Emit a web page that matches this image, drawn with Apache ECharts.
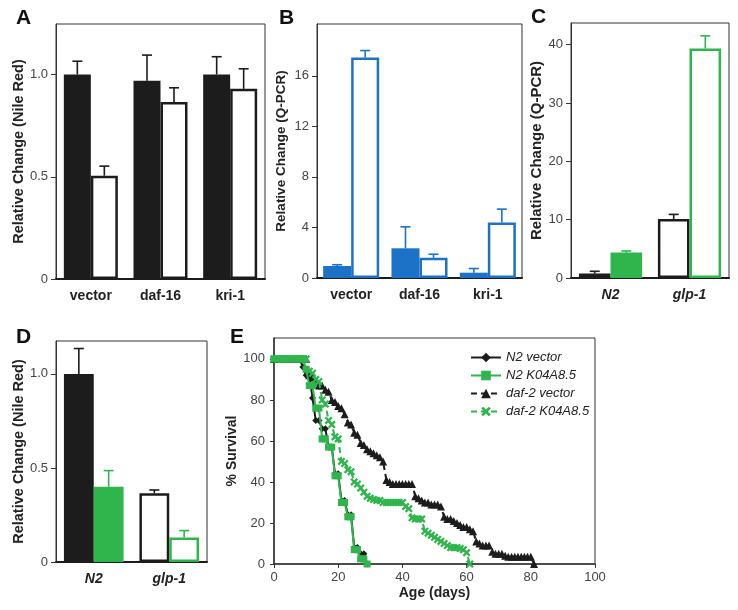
<!DOCTYPE html>
<html><head><meta charset="utf-8">
<script src="https://cdn.jsdelivr.net/npm/echarts@6/dist/echarts.min.js"></script>
<style>html,body{margin:0;padding:0;background:#fff}#c{width:738px;height:610px}</style>
</head><body><div id="c"></div>
<script>
// ---------- DATA ----------
// Panel A (Nile Red)
const aCats = ['vector', 'daf-16', 'kri-1'];
const aCtrl = [1.0, 0.97, 1.0];
const aCtrlErr = [0.065, 0.125, 0.087];
const aRnai = [0.505, 0.865, 0.93];
const aRnaiErr = [0.047, 0.07, 0.098];
const aTicks = [0, 0.5, 1.0];
// Panel B (Q-PCR)
const bCats = ['vector', 'daf-16', 'kri-1'];
const bCtrl = [0.95, 2.35, 0.42];
const bCtrlErr = [0.1, 1.7, 0.33];
const bRnai = [17.45, 1.6, 4.4];
const bRnaiErr = [0.55, 0.28, 1.05];
const bTicks = [0, 4, 8, 12, 16];
// Panel C (Q-PCR)
const cCats = ['N2', 'glp-1'];
const cVec = [0.75, 10.1];
const cVecErr = [0.4, 0.8];
const cK04 = [4.35, 39.35];
const cK04Err = [0.28, 2.15];
const cTicks = [0, 10, 20, 30, 40];
// Panel D (Nile Red)
const dCats = ['N2', 'glp-1'];
const dVec = [1.0, 0.365];
const dVecErr = [0.135, 0.018];
const dK04 = [0.4, 0.13];
const dK04Err = [0.086, 0.037];
const dTicks = [0, 0.5, 1.0];
// Panel E (survival)
const eNames = ['N2 vector', 'N2 K04A8.5', 'daf-2 vector', 'daf-2 K04A8.5'];
const eXTicks = [0, 20, 40, 60, 80, 100];
const eYTicks = [0, 20, 40, 60, 80, 100];
const n2Vec = [[0,100],[1,100],[2,100],[3,100],[4,100],[5,100],[6,100],[7,100],[8,100],[9,96],[10,92],[11,92],[12,81],[13,70],[14,70],[15,66],[16,66],[17,57],[18,57],[19,44],[20,44],[21,31],[22,31],[23,24],[24,24],[25,8],[26,8],[27,5],[28,5],[29,0]];
const n2K04 = [[0,100],[1,100],[2,100],[3,100],[4,100],[5,100],[6,100],[7,100],[8,100],[9,100],[10,95],[11,87],[12,87],[13,76],[14,76],[15,61],[16,61],[17,57],[18,57],[19,43],[20,43],[21,30],[22,30],[23,23],[24,23],[25,7],[26,7],[27,2.5],[28,2.5],[29,0]];
const daf2Vec = [[0,100],[1,100],[2,100],[3,100],[4,100],[5,100],[6,100],[7,100],[8,100],[9,100],[10,100],[11,92],[12,91],[13,89],[14,87],[15,87],[16,85],[17,84],[18,80],[19,79],[20,77],[21,76],[22,73],[23,69],[24,68],[25,64],[26,63],[27,59],[28,58],[29,56],[30,55],[31,54],[32,53],[33,52],[34,50],[35,41],[36,40],[37,39],[38,39],[39,39],[40,39],[41,39],[42,39],[43,39],[44,33],[45,32],[46,31],[47,30],[48,30],[49,29],[50,29],[51,29],[52,28],[53,23],[54,22],[55,22],[56,21],[57,20],[58,19],[59,18],[60,18],[61,17],[62,16],[63,11],[64,10],[65,9],[66,9],[67,9],[68,6],[69,5],[70,5],[71,5],[72,4],[73,3.5],[74,3.5],[75,3.5],[76,3.5],[77,3.5],[78,3.5],[79,3.5],[80,3.5],[81,0]];
const daf2K04 = [[0,100],[1,100],[2,100],[3,100],[4,100],[5,100],[6,100],[7,100],[8,100],[9,100],[10,100],[11,94],[12,93],[13,90],[14,89],[15,80],[16,78],[17,70],[18,68],[19,62],[20,61],[21,50],[22,49],[23,46],[24,45],[25,40],[26,39],[27,37],[28,35],[29,33],[30,32],[31,31.5],[32,31],[33,31],[34,30],[35,30],[36,30],[37,30],[38,30],[39,30],[40,30],[41,28],[42,27],[43,22.5],[44,22],[45,22],[46,22],[47,16],[48,15],[49,14],[50,13],[51,12],[52,11],[53,10],[54,9],[55,8],[56,8],[57,8],[58,7.5],[59,7],[60,5.5],[61,0]];

// ---------- STYLE ----------
const FONT = '"Liberation Sans", Arial, Helvetica, sans-serif';
const BLACK = '#1c1c1c', BLUE = '#1b72c6', GREEN = '#2fb54c';
const cFilled = [true, false];
const XSYM = 'path://M2,0L5,3L8,0L10,2L7,5L10,8L8,10L5,7L2,10L0,8L3,5L0,2Z';

const gridBoxes = [
  {left: 56, top: 24, width: 209, height: 255},
  {left: 317, top: 24, width: 205, height: 254},
  {left: 571, top: 23, width: 158, height: 255},
  {left: 56, top: 341, width: 151, height: 221},
  {left: 274, top: 338, width: 321, height: 226}
];
const gaps = [0.225, 0.18, 0.2, 0.21];

function fmt1(v) { return v === 0 ? '0' : (Number.isInteger(v) ? String(v) : v.toFixed(1)); }
function fmtNR(v) { return v === 0 ? '0' : v.toFixed(1); }

function catAxis(gi, cats, italic) {
  return {
    type: 'category', gridIndex: gi, data: cats,
    axisLine: {lineStyle: {color: BLACK, width: 2}},
    axisTick: {show: false},
    axisLabel: {margin: 10, fontFamily: FONT, fontSize: 14, fontWeight: 'bold', fontStyle: italic ? 'italic' : 'normal', color: '#222'}
  };
}
function valAxis(gi, max, ticks, name, nameSize, nameGap, formatter) {
  return {
    type: 'value', gridIndex: gi, min: 0, max: max,
    splitLine: {show: false},
    axisLine: {show: true, lineStyle: {color: '#333', width: 1}},
    axisTick: {show: true, length: 5, customValues: ticks, lineStyle: {color: '#333'}},
    axisLabel: {customValues: ticks, formatter: formatter, fontFamily: FONT, fontSize: 13, color: '#444', margin: 8},
    name: name, nameLocation: 'middle', nameGap: nameGap,
    nameTextStyle: {fontFamily: FONT, fontSize: nameSize, fontWeight: 'bold', color: '#222'}
  };
}
function errSeries(gi, vals, errs, side, gapFrac, color) {
  return {
    type: 'custom', xAxisIndex: gi, yAxisIndex: gi, z: 5, silent: true,
    data: vals.map((v, i) => [i, v, v + errs[i]]),
    renderItem: function (params, api) {
      const base = api.coord([api.value(0), api.value(1)]);
      const top = api.coord([api.value(0), api.value(2)]);
      const band = api.size([1, 0])[0];
      const bw = band * (1 - gapFrac) / 2;
      const x = base[0] + (side - 0.5) * bw;
      return {type: 'group', children: [
        {type: 'line', shape: {x1: x, y1: base[1], x2: x, y2: top[1]}, style: {stroke: color, lineWidth: 1.6}},
        {type: 'line', shape: {x1: x - 5, y1: top[1], x2: x + 5, y2: top[1]}, style: {stroke: color, lineWidth: 1.6}}
      ]};
    }
  };
}
function barSeries(gi, data, gapFrac, itemStyle) {
  return {type: 'bar', xAxisIndex: gi, yAxisIndex: gi, data: data, barGap: '0%',
    barCategoryGap: (gapFrac * 100) + '%', itemStyle: itemStyle, silent: true};
}
function styledBars(vals, color, filled) {
  return vals.map((v, i) => ({value: v, itemStyle: filled[i] ? {color: color} : {color: '#fff', borderColor: color, borderWidth: 2.5}}));
}

const grids = gridBoxes.map(g => Object.assign({show: true, borderColor: '#333', borderWidth: 1, backgroundColor: 'transparent', containLabel: false, outerBoundsMode: 'none'}, g));

const xAxes = [
  catAxis(0, aCats, false),
  catAxis(1, bCats, false),
  catAxis(2, cCats, true),
  catAxis(3, dCats, true),
  {type: 'value', gridIndex: 4, min: 0, max: 100, interval: 20,
   splitLine: {show: false},
   axisLine: {lineStyle: {color: '#333', width: 1.5}},
   axisTick: {length: 4, lineStyle: {color: '#333'}},
   axisLabel: {fontFamily: FONT, fontSize: 13, color: '#444', margin: 7},
   name: 'Age (days)', nameLocation: 'middle', nameGap: 22,
   nameTextStyle: {fontFamily: FONT, fontSize: 14, fontWeight: 'bold', color: '#222'}}
];
const yAxes = [
  valAxis(0, 1.247, aTicks, 'Relative Change (Nile Red)', 14.5, 30, fmtNR),
  valAxis(1, 20.1, bTicks, 'Relative Change (Q-PCR)', 13.5, 29, fmt1),
  valAxis(2, 43.7, cTicks, 'Relative Change (Q-PCR)', 15, 24, fmt1),
  valAxis(3, 1.175, dTicks, 'Relative Change (Nile Red)', 14.5, 30, fmtNR),
  valAxis(4, 110.2, eYTicks, '% Survival', 14, 32, fmt1)
];
yAxes[4].axisTick.length = 4;
yAxes[4].axisLine.lineStyle.width = 1.5;
yAxes[4].axisLabel.margin = 9;

const series = [
  barSeries(0, aCtrl, gaps[0], {color: BLACK}),
  barSeries(0, aRnai, gaps[0], {color: '#fff', borderColor: BLACK, borderWidth: 2.5}),
  errSeries(0, aCtrl, aCtrlErr, 0, gaps[0], BLACK),
  errSeries(0, aRnai, aRnaiErr, 1, gaps[0], BLACK),

  barSeries(1, bCtrl, gaps[1], {color: BLUE}),
  barSeries(1, bRnai, gaps[1], {color: '#fff', borderColor: BLUE, borderWidth: 2.5}),
  errSeries(1, bCtrl, bCtrlErr, 0, gaps[1], BLUE),
  errSeries(1, bRnai, bRnaiErr, 1, gaps[1], BLUE),

  barSeries(2, styledBars(cVec, BLACK, cFilled), gaps[2], {}),
  barSeries(2, styledBars(cK04, GREEN, cFilled), gaps[2], {}),
  errSeries(2, cVec, cVecErr, 0, gaps[2], BLACK),
  errSeries(2, cK04, cK04Err, 1, gaps[2], GREEN),

  barSeries(3, styledBars(dVec, BLACK, cFilled), gaps[3], {}),
  barSeries(3, styledBars(dK04, GREEN, cFilled), gaps[3], {}),
  errSeries(3, dVec, dVecErr, 0, gaps[3], BLACK),
  errSeries(3, dK04, dK04Err, 1, gaps[3], GREEN),

  {type: 'line', name: eNames[0], xAxisIndex: 4, yAxisIndex: 4, data: n2Vec, symbol: 'diamond', symbolSize: 7,
   color: BLACK, lineStyle: {color: BLACK, width: 2}, itemStyle: {color: BLACK}, z: 4},
  {type: 'line', name: eNames[1], xAxisIndex: 4, yAxisIndex: 4, data: n2K04, symbol: 'rect', symbolSize: 7,
   color: GREEN, lineStyle: {color: GREEN, width: 2}, itemStyle: {color: GREEN}, z: 5},
  {type: 'line', name: eNames[2], xAxisIndex: 4, yAxisIndex: 4, data: daf2Vec, symbol: 'triangle', symbolSize: 8,
   color: BLACK, lineStyle: {color: BLACK, width: 2, type: [6, 4]}, itemStyle: {color: BLACK}, z: 3},
  {type: 'line', name: eNames[3], xAxisIndex: 4, yAxisIndex: 4, data: daf2K04, symbol: XSYM, symbolSize: 8,
   color: GREEN, lineStyle: {color: GREEN, width: 2, type: [6, 4]}, itemStyle: {color: GREEN}, z: 4}
];

const letters = [['A', 16, 18], ['B', 279, 18], ['C', 531, 17], ['D', 16, 337], ['E', 230, 337]];

const option = {
  animation: false,
  backgroundColor: '#fff',
  grid: grids,
  xAxis: xAxes,
  yAxis: yAxes,
  legend: {
    data: eNames, orient: 'vertical', left: 465, top: 346, itemWidth: 30, itemHeight: 12, itemGap: 5,
    textStyle: {fontFamily: FONT, fontSize: 13, fontStyle: 'italic', color: '#222'}
  },
  graphic: letters.map(l => ({type: 'text', x: l[1], y: l[2],
    style: {text: l[0], font: 'bold 21px ' + FONT, fill: '#111', textVerticalAlign: 'middle'}})),
  series: series
};
const chart = echarts.init(document.getElementById('c'), null, {renderer: 'canvas'});
chart.setOption(option);
</script></body></html>
